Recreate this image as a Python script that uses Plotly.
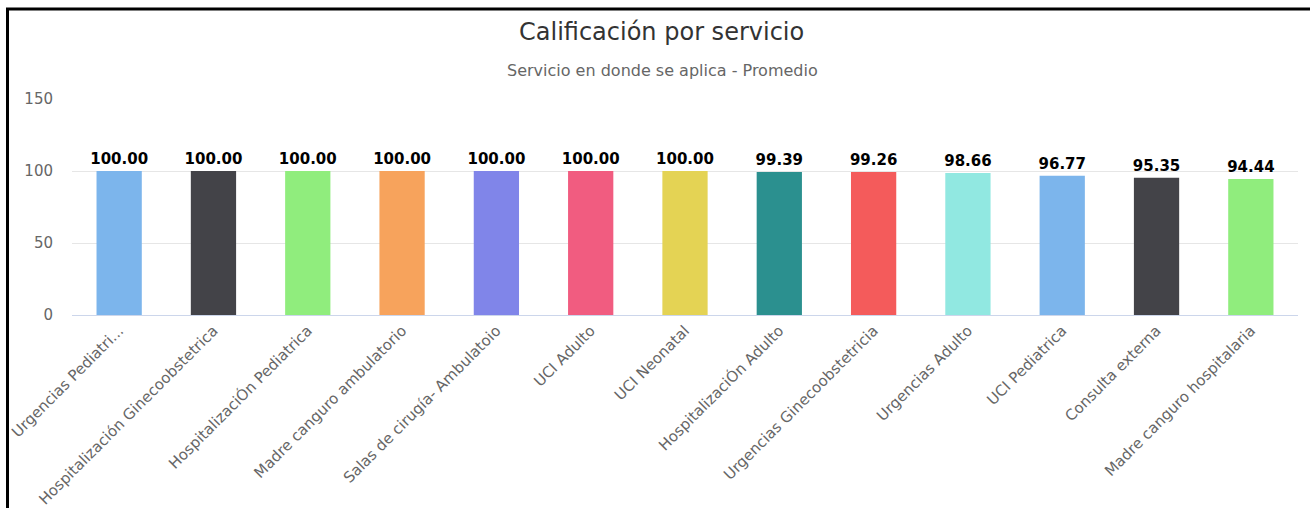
import plotly.graph_objects as go

# Calificación por servicio - promedio por servicio
servicios = [
    'Urgencias Pediatri...',
    'Hospitalización Ginecoobstetrica',
    'HospitalizaciÓn Pediatrica',
    'Madre canguro ambulatorio',
    'Salas de cirugía- Ambulatoio',
    'UCI Adulto',
    'UCI Neonatal',
    'HospitalizaciÓn Adulto',
    'Urgencias Ginecoobstetricia',
    'Urgencias Adulto',
    'UCI Pediatrica',
    'Consulta externa',
    'Madre canguro hospitalaria',
]
promedio = [100.00, 100.00, 100.00, 100.00, 100.00, 100.00, 100.00,
            99.39, 99.26, 98.66, 96.77, 95.35, 94.44]

colores = ['#7cb5ec', '#434348', '#90ed7d', '#f7a35c', '#8085e9',
           '#f15c80', '#e4d354', '#2b908f', '#f45b5b', '#91e8e1']

W, H = 1310, 508
ml, mr, mt, mb = 72, 12, 99, 193
pw, ph = W - ml - mr, H - mt - mb

def px_x(p):
    return (p - ml) / pw

def px_y(p):
    return (H - mb - p) / ph

fig = go.Figure()
fig.add_trace(go.Bar(
    x=servicios,
    y=promedio,
    marker=dict(color=[colores[i % len(colores)] for i in range(len(servicios))],
                line=dict(width=0)),
    width=0.48,
    text=['%.2f' % v for v in promedio],
    textposition='outside',
    constraintext='none',
    cliponaxis=False,
    textfont=dict(family='DejaVu Sans', size=15, color='#000000', weight='bold'),
    hoverinfo='x+y',
))

# titulo y subtitulo
fig.add_annotation(text='Calificación por servicio', xref='paper', yref='paper',
                   x=px_x(661), y=px_y(32), yanchor='middle', showarrow=False,
                   font=dict(family='DejaVu Sans', size=24, color='#333333'))
fig.add_annotation(text='Servicio en donde se aplica - Promedio', xref='paper', yref='paper',
                   x=px_x(662), y=px_y(70), yanchor='middle', showarrow=False,
                   font=dict(family='DejaVu Sans', size=16, color='#666666'))

# marco negro de la captura
fig.add_shape(type='line', xref='paper', yref='paper',
              x0=px_x(6), x1=px_x(W + 5), y0=px_y(9), y1=px_y(9),
              line=dict(color='#000000', width=3))
fig.add_shape(type='line', xref='paper', yref='paper',
              x0=px_x(7.5), x1=px_x(7.5), y0=px_y(8), y1=px_y(H + 5),
              line=dict(color='#000000', width=3))

fig.update_layout(
    width=W, height=H,
    margin=dict(l=ml, r=mr, t=mt, b=mb),
    paper_bgcolor='#ffffff',
    plot_bgcolor='#ffffff',
    showlegend=False,
    font=dict(family='DejaVu Sans', color='#666666'),
    xaxis=dict(
        tickangle=-45,
        tickfont=dict(size=15, color='#666666'),
        showline=True, linecolor='#ccd6eb', linewidth=1,
        showgrid=False, ticks='', automargin=False,
    ),
    yaxis=dict(
        range=[0, 150],
        tickvals=[0, 50, 100, 150],
        tickfont=dict(size=15, color='#666666'),
        showgrid=True, gridcolor='#e6e6e6', gridwidth=1,
        zeroline=False, ticks='', ticklabelstandoff=18, automargin=False,
    ),
)

fig.write_html('out.html', config={'displayModeBar': False},
               post_script="document.body.style.margin='0';")
